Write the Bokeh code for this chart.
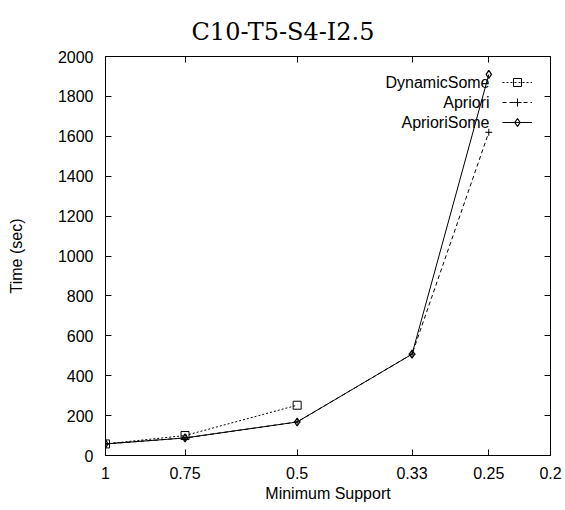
from bokeh.plotting import figure
from bokeh.models import (Range1d, FixedTicker, LinearAxis, Legend, LegendItem,
                          Label, CustomJSTickFormatter)
from bokeh.embed import file_html
from bokeh.resources import INLINE

title_text = "C10-T5-S4-I2.5"
series_names = ["DynamicSome", "Apriori", "AprioriSome"]
support = [1, 0.75, 0.5, 0.33, 0.25]
dyn_support = [1, 0.75, 0.5]
dynamic_some = [58, 100, 252]
apriori = [58, 88, 168, 508, 1620]
apriori_some = [58, 88, 168, 508, 1910]
x_ticks = [1, 0.75, 0.5, 0.33, 0.25, 0.2]
y_ticks = [0, 200, 400, 600, 800, 1000, 1200, 1400, 1600, 1800, 2000]

FONT = "Liberation Sans"

p = figure(width=565, height=510, x_axis_type="log",
           x_range=Range1d(1, 0.2), y_range=Range1d(0, 2000),
           output_backend="svg", toolbar_location=None,
           min_border_left=105, min_border_right=15,
           min_border_top=56, min_border_bottom=55)

p.title.text = title_text
p.title.text_font = "DejaVu Serif"
p.title.text_font_size = "24px"
p.title.text_font_style = "normal"
p.title.text_color = "black"
p.title.align = "left"
p.title.offset = 86
p.title.standoff = 22

p.xgrid.visible = False
p.ygrid.visible = False
p.outline_line_color = "black"
p.outline_line_width = 1
p.background_fill_color = "white"
p.border_fill_color = "white"

xt = FixedTicker(ticks=x_ticks, minor_ticks=[])
yt = FixedTicker(ticks=y_ticks, minor_ticks=[])

p.xaxis.ticker = xt
p.xaxis.formatter = CustomJSTickFormatter(code="return tick.toString();")
p.yaxis.ticker = yt

for ax in [p.xaxis[0], p.yaxis[0]]:
    ax.axis_line_color = "black"
    ax.major_tick_in = 6
    ax.major_tick_out = 0
    ax.minor_tick_line_color = None
    ax.major_tick_line_color = "black"
    ax.major_label_text_font = FONT
    ax.major_label_text_font_size = "16px"
    ax.major_label_text_color = "black"
    ax.axis_label_text_font = FONT
    ax.axis_label_text_font_size = "16px"
    ax.axis_label_text_font_style = "normal"
    ax.axis_label_text_color = "black"

p.xaxis.axis_label = "Minimum Support"
p.xaxis.major_label_standoff = 11
p.xaxis.axis_label_standoff = 3
p.yaxis.axis_label = "Time (sec)"
p.yaxis.major_label_standoff = 12
p.yaxis.axis_label_standoff = 30

blank = CustomJSTickFormatter(code="return '';")
top = LinearAxis(ticker=FixedTicker(ticks=x_ticks, minor_ticks=[]), formatter=blank,
                 major_tick_in=6, major_tick_out=0, minor_tick_line_color=None,
                 major_label_text_font_size="1px")
right = LinearAxis(ticker=FixedTicker(ticks=y_ticks, minor_ticks=[]), formatter=blank,
                   major_tick_in=6, major_tick_out=0, minor_tick_line_color=None,
                   major_label_text_font_size="1px")
p.add_layout(top, "above")
p.add_layout(right, "right")

l1 = p.line(dyn_support, dynamic_some, line_color="black", line_width=1, line_dash="2 2")
m1 = p.scatter(dyn_support, dynamic_some, marker="square", size=8, fill_color=None,
               line_color="black", line_width=1)
l2 = p.line(support, apriori, line_color="black", line_width=1, line_dash="4 3")
m2 = p.scatter(support, apriori, marker="cross", size=7, line_color="black", line_width=1)
l3 = p.line(support, apriori_some, line_color="black", line_width=1)
m3 = p.scatter(support, apriori_some, marker="diamond", size=8, fill_color=None,
               line_color="black", line_width=1.2)

legend = Legend(items=[LegendItem(label=" ", renderers=[l1, m1]),
                       LegendItem(label=" ", renderers=[l2, m2]),
                       LegendItem(label=" ", renderers=[l3, m3])],
                location=(397, 323), glyph_width=30, glyph_height=20,
                label_height=20, label_standoff=0, spacing=0, padding=0, margin=0,
                border_line_alpha=0, background_fill_alpha=0,
                label_text_font_size="1px")
p.add_layout(legend, "center")

# legend texts (screen units are relative to the frame's bottom-left corner)
for i, name in enumerate(series_names):
    p.add_layout(Label(x=384, y=373 - 20 * i, x_units="screen", y_units="screen",
                       text=name, text_align="right", text_baseline="middle",
                       text_font=FONT, text_font_size="16px", text_color="black"))

open("out.html", "w").write(file_html(p, INLINE))
